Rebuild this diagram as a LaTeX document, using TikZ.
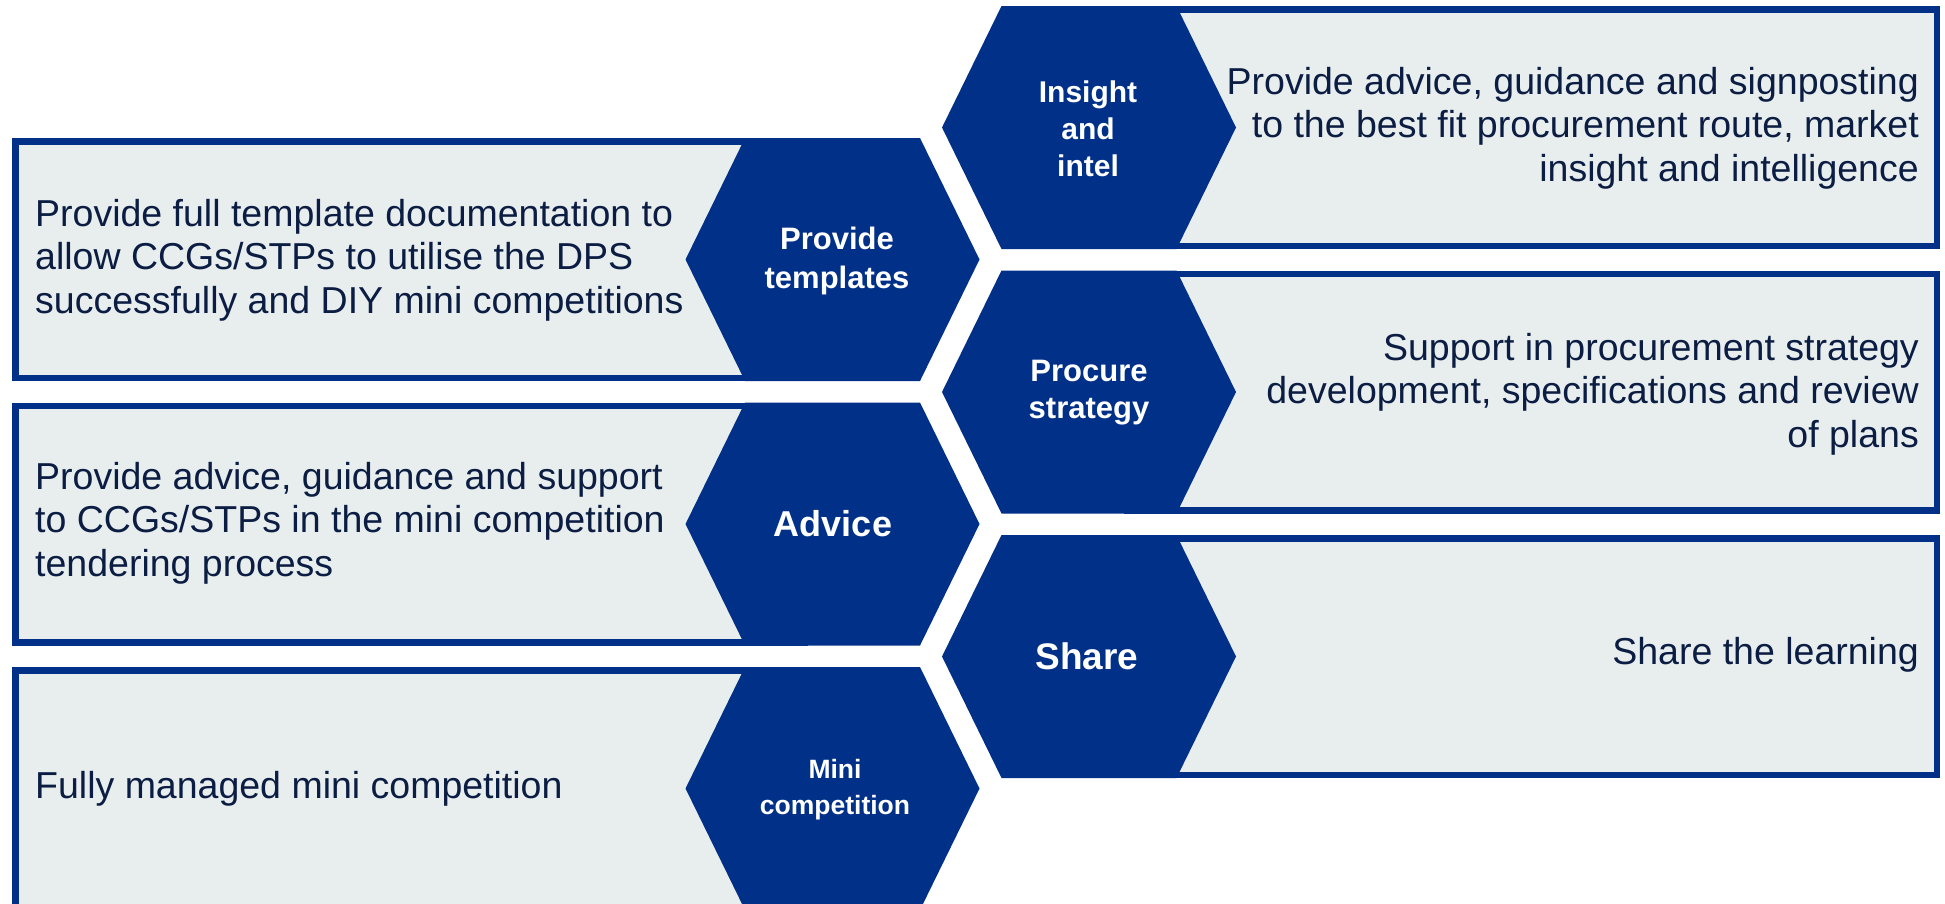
\documentclass[tikz,border=0pt]{standalone}
\usepackage{fontspec}
\setmainfont{Liberation Sans}
\definecolor{hexblue}{HTML}{003087}
\definecolor{boxfill}{HTML}{E8EDEE}
\definecolor{txtnavy}{HTML}{0B1D42}
\tikzset{
  panel/.style={draw=hexblue, fill=boxfill, line width=6.5pt},
  hexshape/.style={fill=hexblue},
  desc/.style={text=txtnavy, font=\fontsize{37.5}{43.5}\selectfont, inner sep=0pt},
  descl/.style={desc, anchor=west, align=left},
  descr/.style={desc, anchor=east, align=right},
  lbl/.style={text=white, align=center, inner sep=0pt},
}
\newcommand\hexfill[3]{% center x, top y, bottom y
  \fill[hexshape] (#1-147,{(#2+#3)/2}) -- (#1-87.5,#2) -- (#1+87.5,#2) -- (#1+147,{(#2+#3)/2}) -- (#1+87.5,#3) -- (#1-87.5,#3) -- cycle;}
\begin{document}
\begin{tikzpicture}[x=1pt,y=-1pt]
\useasboundingbox (0,0) rectangle (1945,903);
\clip (0,0) rectangle (1945,903);
% left column panels
\draw[panel] (15.25,141.25) rectangle (805,377.75);
\draw[panel] (15.25,405.75) rectangle (805,642.25);
\draw[panel] (15.25,670.25) rectangle (805,906.75);
% right column panels
\draw[panel] (1127,9.25) rectangle (1936.75,245.75);
\draw[panel] (1127,273.75) rectangle (1936.75,510.25);
\draw[panel] (1127,538.25) rectangle (1936.75,774.75);
% hexagons
\hexfill{832.5}{138}{381}
\hexfill{832.5}{402.5}{645.5}
\hexfill{832.5}{667}{910}
\hexfill{1089}{6}{249}
\hexfill{1089}{270.5}{513.5}
\hexfill{1089}{535}{778}
% hexagon labels
\node[lbl, font=\fontsize{31}{39}\selectfont\bfseries] (ltemp) at (837,261) {Provide\\templates};
\node[lbl, font=\fontsize{36}{40}\selectfont\bfseries] (ladv) at (833,524) {Advice};
\node[lbl, font=\fontsize{26.5}{36}\selectfont\bfseries] (lmini) at (835,790) {Mini\\competition};
\node[lbl, font=\fontsize{30}{37}\selectfont\bfseries] (lins) at (1088,129) {Insight\\and\\intel};
\node[lbl, font=\fontsize{31}{37}\selectfont\bfseries] (lproc) at (1089,393) {Procure\\strategy};
\node[lbl, font=\fontsize{37}{40}\selectfont\bfseries] (lshare) at (1087,656) {Share};
% descriptions
\node[descl] (dtemp) at (35,260) {Provide full template documentation to\\allow CCGs/STPs to utilise the DPS\\successfully and DIY mini competitions};
\node[descl] (dadv) at (35,523) {Provide advice, guidance and support\\to CCGs/STPs in the mini competition\\tendering process};
\node[descl] (dmini) at (35,789) {Fully managed mini competition};
\node[descr] (dins) at (1919,128) {Provide advice, guidance and signposting\\to the best fit procurement route, market\\insight and intelligence};
\node[descr] (dproc) at (1919,394) {Support in procurement strategy\\development, specifications and review\\of plans};
\node[descr] (dshare) at (1919,655) {Share the learning};
\end{tikzpicture}
\end{document}
